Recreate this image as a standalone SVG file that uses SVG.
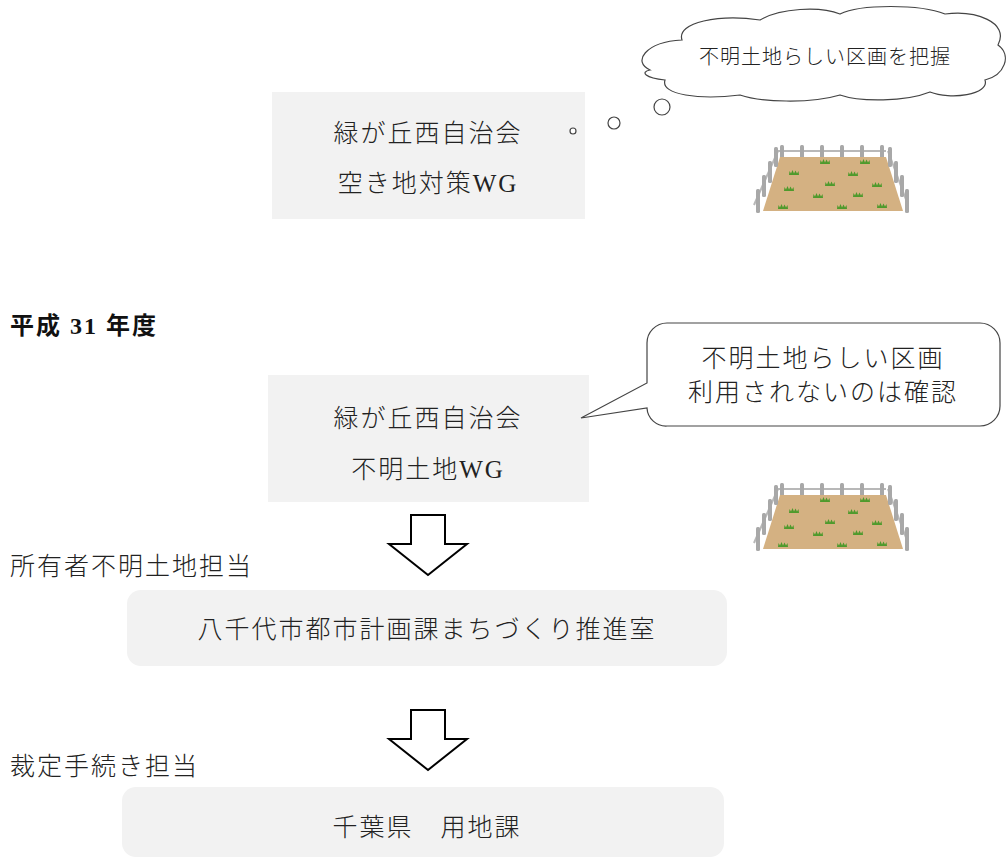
<svg xmlns="http://www.w3.org/2000/svg" xmlns:xlink="http://www.w3.org/1999/xlink" width="1007" height="858" viewBox="0 0 1007 858">
  <style>
    .box { fill: #f2f2f2; }
    .txt { font-family: "Liberation Serif", "Noto Sans CJK JP", serif; font-size: 25px; font-weight: 300; fill: #222; letter-spacing: 2px; dominant-baseline: central; }
    .mid { text-anchor: middle; }
    .head { font-family: "Liberation Serif", "Noto Sans CJK JP", serif; font-size: 24px; font-weight: bold; fill: #111; letter-spacing: 2px; dominant-baseline: central; }
    .small { font-family: "Liberation Serif", "Noto Sans CJK JP", serif; font-size: 20px; font-weight: 300; fill: #222; letter-spacing: 1px; dominant-baseline: central; }
    .outline { fill: #fff; stroke: #444; stroke-width: 1.2; }
    .flow { fill: #fff; stroke: #000; stroke-width: 2; stroke-linejoin: miter; }
    .post { fill: #a8a8a8; }
    .rail { stroke: #b8b8b8; stroke-width: 2; fill: none; }
  </style>
  <defs>
    <path id="tuft" d="M-5,2 L-4.5,-2 L-3,0.5 L-1.5,-3 L0,0.5 L1.5,-2.5 L3,0.5 L4.5,-2 L5,2 Z" fill="#4e9a2c"/>
    <!-- fenced plot of bare land -->
    <g id="plot">
      <polyline class="rail" points="28,6 136,6"/>
      <polyline class="rail" points="28,6 4,60"/>
      <polyline class="rail" points="138,6 158,60"/>
      <g class="post">
        <rect x="30" y="0" width="4" height="16" rx="1.5"/>
        <rect x="50" y="0" width="4" height="16" rx="1.5"/>
        <rect x="70" y="0" width="4" height="16" rx="1.5"/>
        <rect x="90" y="0" width="4" height="16" rx="1.5"/>
        <rect x="110" y="0" width="4" height="16" rx="1.5"/>
        <rect x="130" y="0" width="4" height="16" rx="1.5"/>
      </g>
      <polygon points="30,12 136,12 153,66 13,66" fill="#d4b182"/>
      <g class="post">
        <rect x="24" y="2" width="4" height="20" rx="1.5"/>
        <rect x="18" y="16" width="4" height="22" rx="1.5"/>
        <rect x="12" y="30" width="4" height="22" rx="1.5"/>
        <rect x="6" y="44" width="4" height="24" rx="1.5"/>
        <rect x="138" y="2" width="4" height="20" rx="1.5"/>
        <rect x="144" y="16" width="4" height="22" rx="1.5"/>
        <rect x="150" y="30" width="4" height="22" rx="1.5"/>
        <rect x="155" y="44" width="4" height="24" rx="1.5"/>
      </g>
      <use xlink:href="#tuft" x="75" y="17"/>
      <use xlink:href="#tuft" x="115" y="17"/>
      <use xlink:href="#tuft" x="44" y="28"/>
      <use xlink:href="#tuft" x="103" y="29"/>
      <use xlink:href="#tuft" x="80" y="39"/>
      <use xlink:href="#tuft" x="127" y="40"/>
      <use xlink:href="#tuft" x="39" y="44"/>
      <use xlink:href="#tuft" x="68" y="51"/>
      <use xlink:href="#tuft" x="108" y="50"/>
      <use xlink:href="#tuft" x="33" y="62"/>
      <use xlink:href="#tuft" x="92" y="62"/>
      <use xlink:href="#tuft" x="132" y="61"/>
    </g>
  </defs>

  <rect width="1007" height="858" fill="#fff"/>

  <!-- current-year working group -->
  <g id="wg-vacant">
    <rect class="box" x="272" y="92" width="313" height="127"/>
    <text class="txt mid" x="428" y="133">緑が丘西自治会</text>
    <text class="txt mid" x="428" y="183">空き地対策WG</text>
  </g>

  <!-- thought cloud -->
  <g id="thought">
    <circle class="outline" cx="573" cy="131" r="3"/>
    <circle class="outline" cx="614" cy="123" r="6"/>
    <circle class="outline" cx="662" cy="107" r="8"/>
    <path class="outline" d="M650,70 C632,62 645,42 682,40 C676,22 720,14 760,20 C780,8 820,6 840,14 C860,4 920,4 945,14 C975,10 1010,22 998,45 C1012,55 1005,75 985,80 C990,95 950,100 930,92 C905,102 860,102 840,95 C810,104 760,102 740,95 C700,100 660,95 665,80 C645,78 640,72 650,70 Z"/>
    <text class="small mid" x="825" y="57">不明土地らしい区画を把握</text>
  </g>

  <g id="plot-1">
    <use xlink:href="#plot" x="750" y="145"/>
  </g>

  <!-- fiscal year heading -->
  <g id="year">
    <text class="head" x="10" y="326">平成 31 年度</text>
  </g>

  <g id="wg-unknown">
    <rect class="box" x="268" y="375" width="321" height="127"/>
    <text class="txt mid" x="428" y="418">緑が丘西自治会</text>
    <text class="txt mid" x="428" y="469">不明土地WG</text>
  </g>

  <!-- speech bubble -->
  <g id="speech">
    <path class="outline" d="M667,323 H980 A20,20 0 0 1 1000,343 V406 A20,20 0 0 1 980,426 H667 A19,19 0 0 1 647,408 L581,418 L647,383 V343 A20,20 0 0 1 667,323 Z"/>
    <text class="txt mid" x="823" y="358">不明土地らしい区画</text>
    <text class="txt mid" x="823" y="392">利用されないのは確認</text>
  </g>

  <g id="plot-2">
    <use xlink:href="#plot" x="750" y="483"/>
  </g>

  <g id="city">
    <text class="txt" x="10" y="566">所有者不明土地担当</text>
    <rect class="box" x="127" y="590" width="600" height="76" rx="14"/>
    <text class="txt mid" x="427" y="629">八千代市都市計画課まちづくり推進室</text>
  </g>

  <g id="prefecture">
    <text class="txt" x="10" y="766">裁定手続き担当</text>
    <rect class="box" x="122" y="787" width="602" height="70" rx="14"/>
    <text class="txt mid" x="427" y="827">千葉県　用地課</text>
  </g>

  <!-- block arrows between stages -->
  <g id="connectors">
    <path class="flow" d="M411,515 H445 V544 H467 L428,575 L389,544 H411 Z"/>
    <path class="flow" d="M411,710 H445 V739 H467 L428,770 L389,739 H411 Z"/>
  </g>
</svg>
